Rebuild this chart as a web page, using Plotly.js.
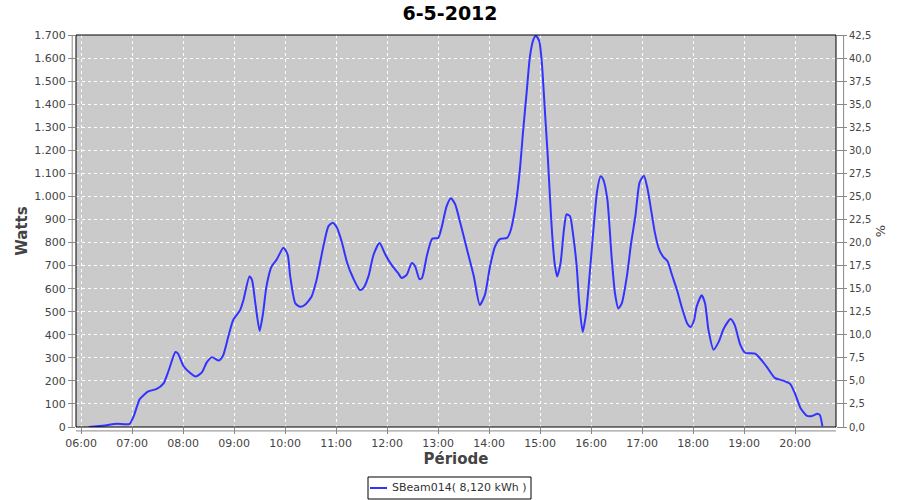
<!DOCTYPE html>
<html>
<head>
<meta charset="utf-8">
<script src="https://cdn.plot.ly/plotly-3.0.1.min.js"></script>
<style>html,body{margin:0;padding:0;background:#fff}#chart{width:900px;height:500px}</style>
</head>
<body>
<div id="chart"></div>
<script>
const day = "2012-05-06";
const times = ["06:09","06:28","06:42","06:57","07:02","07:09","07:19","07:29","07:37","07:43","07:51","07:54","08:00","08:06","08:15","08:22","08:28","08:34","08:42","08:47","08:53","08:59","09:07","09:11","09:18","09:21","09:25","09:30","09:34","09:38","09:44","09:50","09:58","10:03","10:06","10:12","10:18","10:23","10:31","10:37","10:45","10:51","10:56","11:01","11:07","11:13","11:20","11:28","11:32","11:38","11:44","11:51","11:58","12:05","12:13","12:17","12:23","12:29","12:33","12:38","12:41","12:47","12:53","13:00","13:04","13:10","13:15","13:20","13:26","13:34","13:42","13:49","13:55","14:01","14:07","14:13","14:21","14:25","14:31","14:36","14:40","14:44","14:48","14:52","14:55","14:59","15:02","15:06","15:09","15:12","15:14","15:17","15:20","15:24","15:28","15:31","15:35","15:39","15:43","15:46","15:50","15:54","15:59","16:03","16:07","16:11","16:14","16:19","16:24","16:28","16:32","16:36","16:42","16:47","16:52","16:57","17:02","17:06","17:11","17:15","17:20","17:25","17:30","17:35","17:41","17:47","17:53","17:57","18:01","18:04","18:10","18:14","18:18","18:24","18:30","18:36","18:44","18:49","18:55","19:01","19:13","19:19","19:27","19:36","19:46","19:54","20:00","20:06","20:14","20:20","20:26","20:29","20:32"];
const watts = [0,7,14,14,48,121,154,165,189,245,325,318,267,242,219,237,281,303,288,310,390,465,507,551,653,638,536,417,493,609,696,726,777,747,653,536,521,529,565,638,784,871,886,864,798,711,646,594,602,653,747,798,747,704,667,646,660,711,696,641,646,747,816,820,864,958,992,966,886,769,653,529,573,696,784,816,820,849,958,1111,1286,1447,1607,1680,1697,1673,1578,1345,1170,966,842,711,653,711,857,922,915,827,696,536,412,493,696,871,1024,1087,1075,988,740,580,514,536,653,798,915,1061,1090,1039,930,842,769,737,718,660,594,514,449,434,463,521,571,536,420,335,369,427,468,441,361,322,318,296,259,213,201,187,143,84,48,48,58,52,4];
const seriesName = "SBeam014( 8,120 kWh )";
const chartTitle = "6-5-2012";
const ratedWatts = 4000; // 100 % on the right axis

const xs = times.map(t => day + " " + t);
const percent = watts.map(w => w / ratedWatts * 100);
const axisGray = "#888888";
const labelColor = "#444444";
const lineColor = "#3333ff";
const font = "DejaVu Sans, Arial, sans-serif";

const data = [
  {
    x: xs, y: watts, type: "scatter", mode: "lines", name: seriesName,
    line: {color: lineColor, width: 2, shape: "spline", smoothing: 0.6},
    showlegend: false, hoverinfo: "x+y"
  },
  {
    x: xs, y: percent, yaxis: "y2", type: "scatter", mode: "lines",
    line: {color: "rgba(0,0,0,0)", width: 0}, showlegend: false, hoverinfo: "skip"
  }
];

// plot area in pixels: x 76..836, y 35..427
const px = v => (v - 76) / 760;
const py = v => (427 - v) / 392;

const layout = {
  width: 900, height: 500,
  margin: {l: 76, r: 64, t: 35, b: 73, pad: 0},
  paper_bgcolor: "#ffffff",
  plot_bgcolor: "#cacaca",
  separators: ",.",
  font: {family: font, size: 11, color: labelColor},
  title: {text: "<b>" + chartTitle + "</b>", x: 0.5, xref: "container", xanchor: "center", y: 0.973, yref: "container", yanchor: "middle", font: {family: font, size: 19, color: "#000000"}},
  showlegend: false,
  xaxis: {
    type: "date",
    range: [day + " 05:54", day + " 20:48"],
    dtick: 3600000, tick0: day + " 06:00", tickformat: "%H:%M",
    showgrid: true, gridcolor: "#ffffff", griddash: "3px,3px", gridwidth: 1,
    zeroline: false, showline: false,
    ticks: "outside", ticklen: 6, tickcolor: axisGray, tickwidth: 1,
    tickfont: {family: font, size: 11, color: labelColor},
    title: {text: "<b>Période</b>", font: {family: font, size: 15, color: labelColor}, standoff: 4}
  },
  yaxis: {
    range: [0, 1700], dtick: 100, tickformat: ",d",
    showgrid: true, gridcolor: "#ffffff", griddash: "3px,3px", gridwidth: 1,
    zeroline: false, showline: false,
    ticks: "outside", ticklen: 7, tickcolor: axisGray, tickwidth: 1,
    tickfont: {family: font, size: 11, color: labelColor},
    title: {text: "<b>Watts</b>", font: {family: font, size: 15, color: labelColor}, standoff: 3}
  },
  yaxis2: {
    overlaying: "y", side: "right", range: [0, 42.5], dtick: 2.5, tickformat: ".1f",
    showgrid: false, zeroline: false, showline: false,
    ticks: "outside", ticklen: 10, tickcolor: axisGray, tickwidth: 1,
    tickfont: {family: font, size: 10, color: labelColor},
    title: {text: "%", font: {family: font, size: 13, color: labelColor}, standoff: 5}
  },
  shapes: [
    {type: "rect", xref: "paper", yref: "paper", x0: 0, x1: 1, y0: 0, y1: 1, line: {color: "#000000", width: 1}, fillcolor: "rgba(0,0,0,0)", layer: "above"},
    {type: "line", xref: "paper", yref: "paper", x0: -0.005, x1: -0.005, y0: 0, y1: 1, line: {color: axisGray, width: 1}},
    {type: "line", xref: "paper", yref: "paper", x0: 1.01, x1: 1.01, y0: 0, y1: 1, line: {color: axisGray, width: 1}},
    {type: "line", xref: "paper", yref: "paper", x0: 0, x1: 1, y0: -0.01, y1: -0.01, line: {color: axisGray, width: 1}},
    // legend box
    {type: "rect", xref: "paper", yref: "paper", x0: px(368), x1: px(531), y0: py(477), y1: py(499), line: {color: "#000000", width: 1}, fillcolor: "#ffffff"},
    {type: "line", xref: "paper", yref: "paper", x0: px(370), x1: px(387), y0: py(488), y1: py(488), line: {color: lineColor, width: 2}}
  ],
  annotations: [
    {xref: "paper", yref: "paper", x: px(390), y: py(488), xanchor: "left", yanchor: "middle", text: seriesName, showarrow: false, font: {family: font, size: 11, color: "#333333"}}
  ]
};

Plotly.newPlot("chart", data, layout, {displayModeBar: false, staticPlot: true});
</script>
</body>
</html>
